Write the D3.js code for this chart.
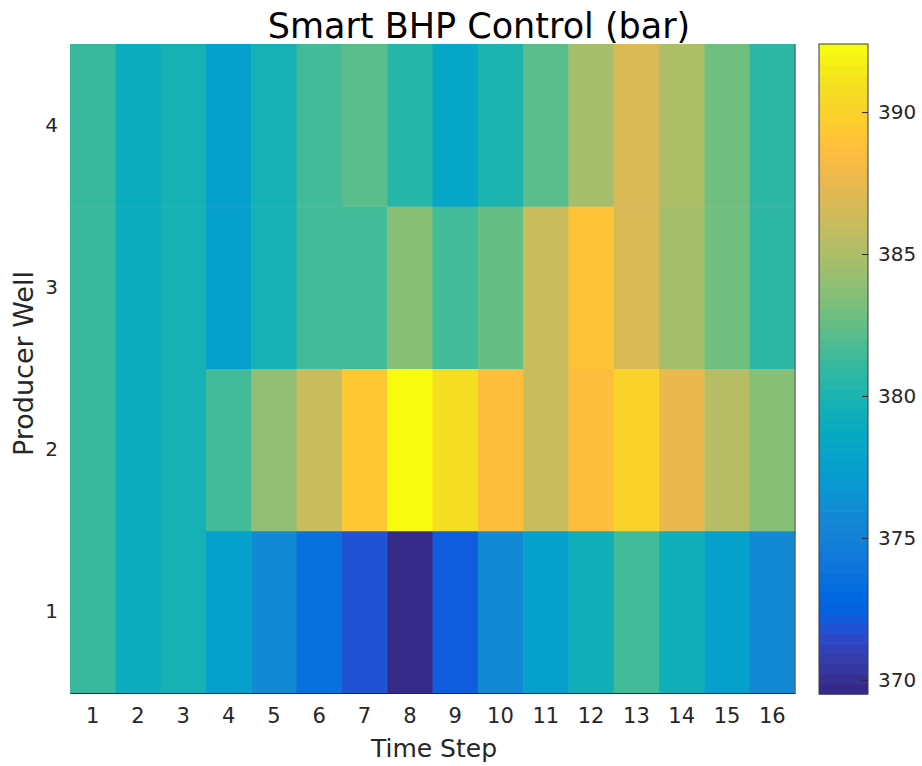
<!DOCTYPE html>
<html>
<head>
<meta charset="utf-8">
<script src="https://cdn.jsdelivr.net/npm/d3@7"></script>
<style>
  html, body { margin: 0; padding: 0; background: #fff; }
  svg { display: block; }
  text { font-family: "DejaVu Sans", sans-serif; fill: #262626; }
</style>
</head>
<body>
<script>
// ---- data ----
const timeSteps = [1, 2, 3, 4, 5, 6, 7, 8, 9, 10, 11, 12, 13, 14, 15, 16];
const wells = [1, 2, 3, 4];
const well1 = [381.1, 378.95, 379.7, 377.7, 375.9, 373.5, 371.8, 369.5, 372.2, 375.8, 377.7, 379.3, 381.5, 379.3, 377.7, 375.8];
const well2 = [381.1, 378.95, 379.7, 381.5, 384.0, 386.1, 389.5, 392.4, 390.8, 388.6, 386.1, 388.6, 390.2, 387.7, 385.5, 383.8];
const well3 = [381.1, 378.95, 379.7, 377.7, 379.8, 381.5, 381.5, 383.8, 381.5, 382.6, 386.1, 389.1, 386.8, 384.8, 383.0, 380.8];
const well4 = [381.1, 378.95, 379.7, 377.7, 379.8, 381.5, 382.2, 380.4, 378.2, 379.9, 382.2, 384.8, 386.8, 385.1, 383.0, 380.8];
const colorbarTicks = [370, 375, 380, 385, 390];
const titleText = "Smart BHP Control (bar)";
const xLabel = "Time Step";
const yLabel = "Producer Well";

// parula colormap (MATLAB)
const parula = [
[0.2081,0.1663,0.5292],[0.2116,0.1898,0.5777],[0.2123,0.2138,0.6270],[0.2081,0.2386,0.6771],
[0.1959,0.2645,0.7279],[0.1707,0.2919,0.7792],[0.1253,0.3242,0.8303],[0.0591,0.3598,0.8683],
[0.0117,0.3875,0.8820],[0.0060,0.4086,0.8828],[0.0165,0.4266,0.8786],[0.0329,0.4430,0.8720],
[0.0498,0.4586,0.8641],[0.0629,0.4737,0.8554],[0.0723,0.4887,0.8467],[0.0779,0.5040,0.8384],
[0.0793,0.5200,0.8312],[0.0749,0.5375,0.8263],[0.0641,0.5570,0.8240],[0.0488,0.5772,0.8228],
[0.0343,0.5966,0.8199],[0.0265,0.6137,0.8135],[0.0239,0.6287,0.8038],[0.0231,0.6418,0.7913],
[0.0228,0.6535,0.7768],[0.0267,0.6642,0.7607],[0.0384,0.6743,0.7436],[0.0590,0.6838,0.7254],
[0.0843,0.6928,0.7062],[0.1133,0.7015,0.6859],[0.1453,0.7098,0.6646],[0.1801,0.7177,0.6424],
[0.2178,0.7250,0.6193],[0.2586,0.7317,0.5954],[0.3022,0.7376,0.5712],[0.3482,0.7424,0.5473],
[0.3953,0.7459,0.5244],[0.4420,0.7481,0.5033],[0.4871,0.7491,0.4840],[0.5300,0.7491,0.4661],
[0.5709,0.7485,0.4494],[0.6099,0.7473,0.4337],[0.6473,0.7456,0.4188],[0.6834,0.7435,0.4044],
[0.7184,0.7411,0.3905],[0.7525,0.7384,0.3768],[0.7858,0.7356,0.3633],[0.8185,0.7327,0.3498],
[0.8507,0.7299,0.3360],[0.8824,0.7274,0.3217],[0.9139,0.7258,0.3063],[0.9450,0.7261,0.2886],
[0.9739,0.7314,0.2666],[0.9938,0.7455,0.2403],[0.9990,0.7653,0.2164],[0.9955,0.7861,0.1967],
[0.9880,0.8066,0.1794],[0.9789,0.8271,0.1633],[0.9697,0.8481,0.1475],[0.9626,0.8705,0.1309],
[0.9589,0.8949,0.1132],[0.9598,0.9218,0.0948],[0.9661,0.9514,0.0755],[0.9763,0.9831,0.0538]
].map(c => d3.rgb(c[0]*255, c[1]*255, c[2]*255).formatHex());

// ---- layout ----
const W = 922, H = 766;
const plot = { left: 70, right: 795, top: 44, bottom: 693 };
const cbar = { left: 819, right: 868, top: 44, bottom: 694 };

const rows = [well1, well2, well3, well4];
const cells = [];
rows.forEach((vals, ri) => vals.forEach((v, ci) => cells.push({ well: wells[ri], t: timeSteps[ci], v })));

const vmin = d3.min(cells, d => d.v), vmax = d3.max(cells, d => d.v);
const color = d3.scaleQuantize().domain([vmin, vmax]).range(parula);

const x = d3.scaleBand().domain(timeSteps).range([plot.left, plot.right]).padding(0);
const y = d3.scaleBand().domain(wells.slice().reverse()).range([plot.top, plot.bottom]).padding(0);

const svg = d3.select("body").append("svg").attr("width", W).attr("height", H);

svg.append("g").selectAll("rect").data(cells).join("rect")
  .attr("x", d => x(d.t)).attr("y", d => y(d.well))
  .attr("width", x.bandwidth() + 0.5).attr("height", y.bandwidth() + 0.5)
  .attr("fill", d => color(d.v));

// axes
const xAxis = svg.append("g").attr("transform", `translate(0,${plot.bottom})`)
  .call(d3.axisBottom(x).tickSize(0).tickPadding(15));
xAxis.select(".domain").attr("stroke", "#262626").attr("stroke-width", 1.2);
xAxis.selectAll("text").attr("font-size", 21).style("font-family", "'DejaVu Sans', sans-serif").style("fill", "#262626");

const yAxis = svg.append("g").attr("transform", `translate(${plot.left},0)`)
  .call(d3.axisLeft(y).tickSize(0).tickPadding(12));
yAxis.select(".domain").remove();
yAxis.selectAll("text").attr("font-size", 20).style("font-family", "'DejaVu Sans', sans-serif").style("fill", "#262626");

// right edge line
svg.append("line").attr("x1", plot.right).attr("x2", plot.right)
  .attr("y1", plot.top).attr("y2", plot.bottom).attr("stroke", "#5a5a5a").attr("stroke-width", 1);

// labels
svg.append("text").attr("x", 479).attr("y", 38)
  .attr("text-anchor", "middle").attr("font-size", 35).style("fill", "#000").text(titleText);
svg.append("text").attr("x", 434).attr("y", 757)
  .attr("text-anchor", "middle").attr("font-size", 25).text(xLabel);
svg.append("text").attr("transform", `translate(33,${(plot.top + plot.bottom) / 2 - 5}) rotate(-90)`)
  .attr("text-anchor", "middle").attr("font-size", 27).text(yLabel);

// colorbar
const cy = d3.scaleLinear().domain([vmin, vmax]).range([cbar.bottom, cbar.top]);
const nSteps = parula.length;
const cbg = svg.append("g");
cbg.selectAll("rect").data(d3.range(nSteps)).join("rect")
  .attr("x", cbar.left).attr("width", cbar.right - cbar.left)
  .attr("y", i => cy(vmin + (i + 1) * (vmax - vmin) / nSteps))
  .attr("height", (cbar.bottom - cbar.top) / nSteps + 0.6)
  .attr("fill", i => parula[i]);
cbg.append("rect").attr("x", cbar.left).attr("y", cbar.top)
  .attr("width", cbar.right - cbar.left).attr("height", cbar.bottom - cbar.top)
  .attr("fill", "none").attr("stroke", "#3a3a3a").attr("stroke-width", 1);
const cAxis = svg.append("g").attr("transform", `translate(${cbar.right},0)`)
  .call(d3.axisRight(cy).tickValues(colorbarTicks).tickSize(-6).tickPadding(10));
cAxis.select(".domain").remove();
cAxis.selectAll("line").attr("stroke", "#262626");
cAxis.selectAll("text").attr("font-size", 20).style("font-family", "'DejaVu Sans', sans-serif").style("fill", "#262626");
</script>
</body>
</html>
